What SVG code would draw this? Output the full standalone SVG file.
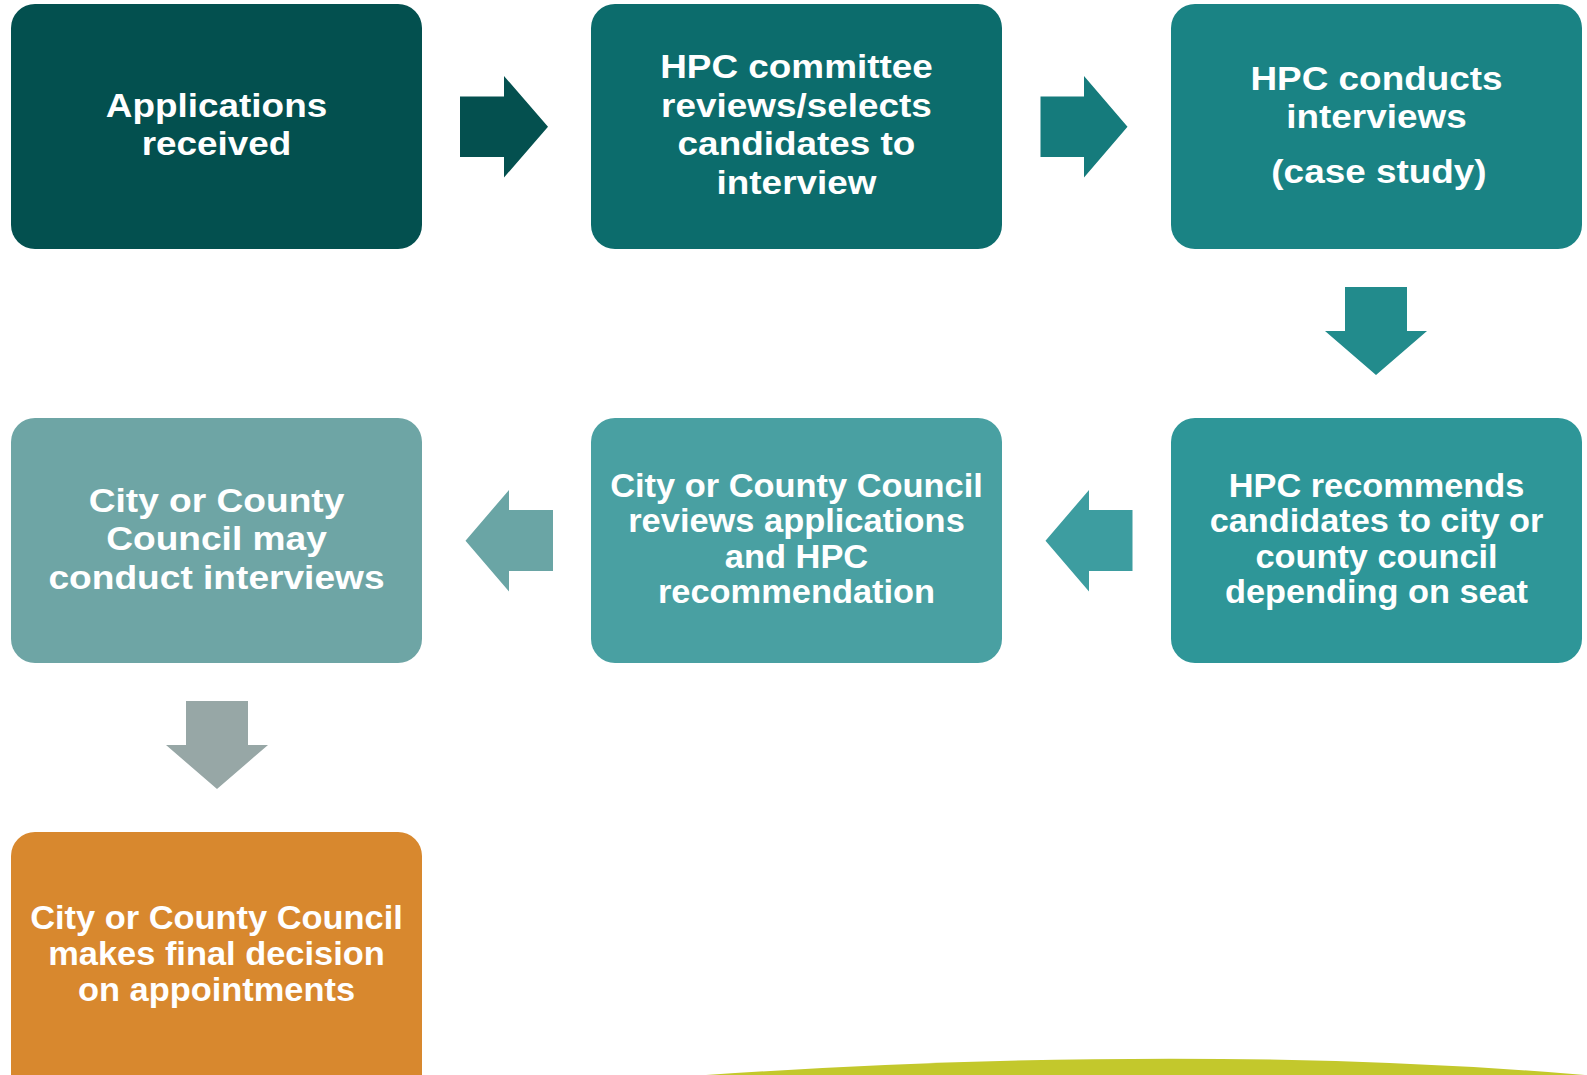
<svg xmlns="http://www.w3.org/2000/svg" width="1587" height="1075" viewBox="0 0 1587 1075">
<style>
.lbl{font-family:"Liberation Sans",Arial,sans-serif;font-weight:bold;font-size:33px;fill:#FFFFFF;text-anchor:middle}
</style>
<rect width="1587" height="1075" fill="#FFFFFF"/>
<path id="decor" d="M 706 1075 Q 1230 1040 1640 1080 Z" fill="#C3C82C"/>
<g id="connectors">
  <polygon fill="#04504F" points="460,96.5 504,96.5 504,76 548,126.7 504,177.5 504,157 460,157"/>
  <polygon fill="#157B7C" points="1040.5,96.5 1084,96.5 1084,76 1127.5,126.7 1084,177.5 1084,157 1040.5,157"/>
  <polygon fill="#228B8C" points="1345,287 1407,287 1407,331 1427,331 1376,375 1325,331 1345,331"/>
  <polygon fill="#3D9DA0" points="1132.5,510 1089,510 1089,490 1045.5,540.7 1089,591.5 1089,571 1132.5,571"/>
  <polygon fill="#6AA5A5" points="553,510 509,510 509,490 465.5,540.7 509,591.5 509,571 553,571"/>
  <polygon fill="#97A7A6" points="186,701 248,701 248,745 268,745 217,789 166,745 186,745"/>
</g>
<g id="node1">
  <rect x="11" y="4" width="411" height="245" rx="24" fill="#03504F"/>
  <g transform="translate(216.5 0) scale(1.118 1)">
    <text class="lbl" x="0" y="117">Applications</text>
    <text class="lbl" x="0" y="155.5">received</text>
  </g>
</g>
<g id="node2">
  <rect x="591" y="4" width="411" height="245" rx="24" fill="#0C6C6C"/>
  <g transform="translate(796.5 0) scale(1.118 1)">
    <text class="lbl" x="0" y="78.5">HPC committee</text>
    <text class="lbl" x="0" y="117">reviews/selects</text>
    <text class="lbl" x="0" y="155.5">candidates to</text>
    <text class="lbl" x="0" y="194">interview</text>
  </g>
</g>
<g id="node3">
  <rect x="1171" y="4" width="411" height="245" rx="24" fill="#1A8384"/>
  <g transform="translate(1376.5 0) scale(1.118 1)">
    <text class="lbl" x="0" y="89.7">HPC conducts</text>
    <text class="lbl" x="0" y="128">interviews</text>
    <text class="lbl" x="2.2" y="183">(case study)</text>
  </g>
</g>
<g id="node4">
  <rect x="1171" y="418" width="411" height="245" rx="24" fill="#2E9698"/>
  <g transform="translate(1376.5 0) scale(1.04 1)">
    <text class="lbl" x="0" y="497">HPC recommends</text>
    <text class="lbl" x="0" y="532.3">candidates to city or</text>
    <text class="lbl" x="0" y="567.6">county council</text>
    <text class="lbl" x="0" y="603">depending on seat</text>
  </g>
</g>
<g id="node5">
  <rect x="591" y="418" width="411" height="245" rx="24" fill="#49A0A2"/>
  <g transform="translate(796.5 0) scale(1.043 1)">
    <text class="lbl" x="0" y="497">City or County Council</text>
    <text class="lbl" x="0" y="532.3">reviews applications</text>
    <text class="lbl" x="0" y="567.6">and HPC</text>
    <text class="lbl" x="0" y="603">recommendation</text>
  </g>
</g>
<g id="node6">
  <rect x="11" y="418" width="411" height="245" rx="24" fill="#6EA5A5"/>
  <g transform="translate(216.5 0) scale(1.125 1)">
    <text class="lbl" x="0" y="511.7">City or County</text>
    <text class="lbl" x="0" y="550.2">Council may</text>
    <text class="lbl" x="0" y="588.7">conduct interviews</text>
  </g>
</g>
<g id="node7">
  <rect x="11" y="832" width="411" height="270" rx="24" fill="#D8882E"/>
  <g transform="translate(216.5 0) scale(1.043 1)">
    <text class="lbl" x="0" y="929">City or County Council</text>
    <text class="lbl" x="0" y="965">makes final decision</text>
    <text class="lbl" x="0" y="1001">on appointments</text>
  </g>
</g>
</svg>
